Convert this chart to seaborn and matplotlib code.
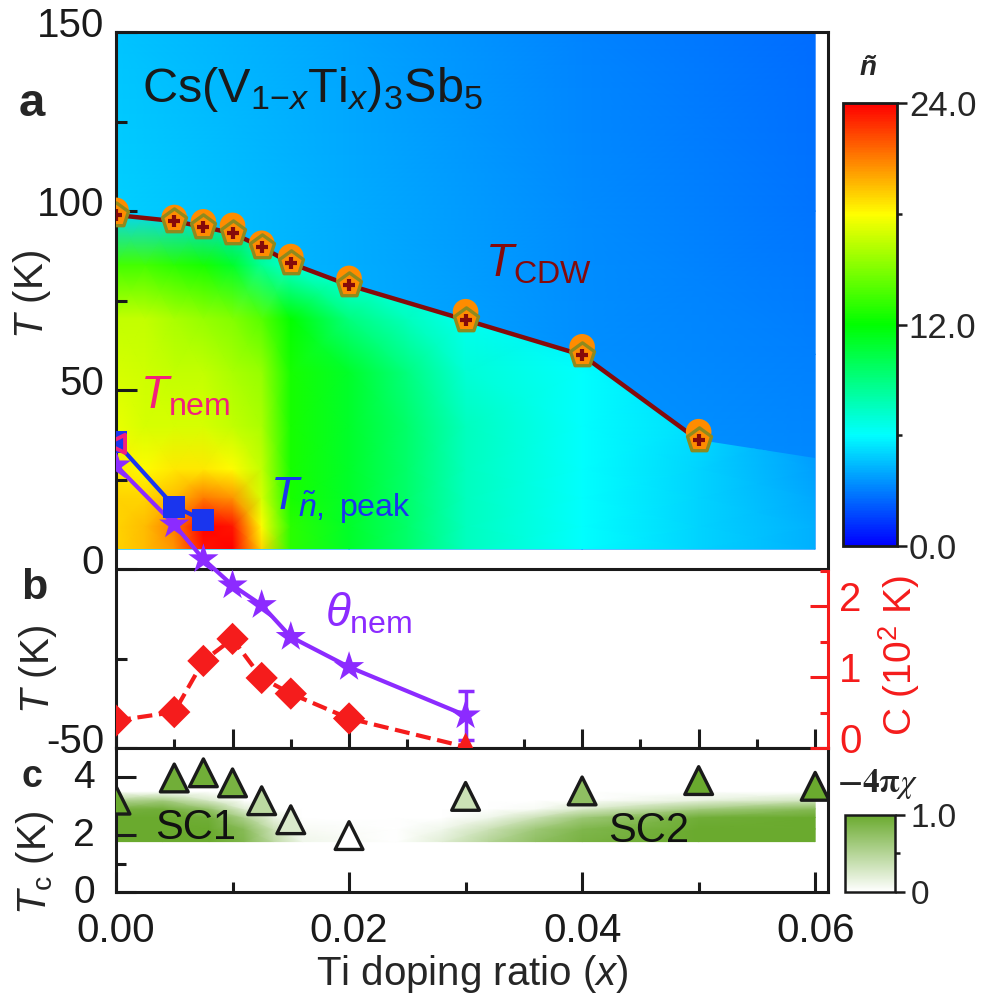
import numpy as np
import matplotlib
matplotlib.use("Agg")
import matplotlib.pyplot as plt
import seaborn as sns
from matplotlib.colors import LinearSegmentedColormap, Normalize
from matplotlib.patches import Polygon
from matplotlib.cm import ScalarMappable
from matplotlib.transforms import ScaledTranslation
from matplotlib.ticker import FixedLocator, MultipleLocator, FormatStrFormatter

sns.set_theme(style="ticks")
plt.rcParams["font.family"] = ["Liberation Sans", "DejaVu Sans"]
plt.rcParams["mathtext.fontset"] = "custom"
plt.rcParams["mathtext.rm"] = "Liberation Sans"
plt.rcParams["mathtext.it"] = "Liberation Sans:italic"
plt.rcParams["mathtext.bf"] = "Liberation Sans:bold"
plt.rcParams["axes.unicode_minus"] = False

# ---------------- data ----------------
# CDW transition (two determinations)
cdw_x = [0.0, 0.005, 0.0075, 0.01, 0.0125, 0.015, 0.02, 0.03, 0.04, 0.05]
cdw_T_pent = [98.9, 97.2, 95.6, 93.8, 90.0, 85.4, 79.3, 69.6, 59.8, 36.0]
cdw_T_circ = [100.2, 98.2, 97.0, 96.0, 91.0, 87.3, 81.2, 71.9, 62.1, 38.4]

# nematic onset and peak of n-tilde
nem_x = [0.0]
nem_T = [35.0]
peak_x = [0.0, 0.005, 0.0075]
peak_T = [35.5, 17.5, 13.7]

# Curie-Weiss temperature theta_nem and constant C
theta_x = [0.0, 0.005, 0.0075, 0.01, 0.0125, 0.015, 0.02, 0.03]
theta_T = [29.0, 12.5, 2.8, -4.5, -10.0, -18.9, -27.3, -40.8]
theta_err = [0, 0, 0, 0, 0, 0, 0, 6.8]
curie_x = [0.0, 0.005, 0.0075, 0.01, 0.0125, 0.015, 0.02, 0.03]
curie_C = [0.39, 0.51, 1.23, 1.54, 0.99, 0.77, 0.42, 0.02]
curie_kind = ["D", "D", "D", "D", "D", "D", "D", "^"]

# superconducting Tc and diamagnetic shielding
tc_x = [0.0, 0.005, 0.0075, 0.01, 0.0125, 0.015, 0.02, 0.03, 0.04, 0.05, 0.06]
tc_T = [3.2, 3.97, 4.15, 3.8, 3.18, 2.52, 1.97, 3.33, 3.52, 3.88, 3.68]
tc_chi = [1.0, 0.95, 0.95, 0.9, 0.45, 0.25, 0.0, 0.35, 0.75, 1.0, 1.0]

# n-tilde map below T_CDW (rows: temperature, columns: doping)
map_x = [0.0, 0.0025, 0.005, 0.0075, 0.01, 0.0125, 0.015, 0.02, 0.025, 0.03, 0.04, 0.05, 0.06]
map_T = [5.6, 12, 20, 28, 40, 55, 70, 85, 100]
map_low = [
    [19.0, 19.5, 20.5, 23.5, 24.0, 19.0, 13.0, 11.0, 9.5, 7.5, 6.0, 5.0, 4.2],
    [19.0, 19.5, 21.0, 24.0, 23.5, 18.0, 13.0, 11.0, 9.5, 7.5, 6.0, 5.0, 4.2],
    [19.0, 19.0, 19.5, 21.0, 20.5, 17.0, 12.5, 11.0, 9.5, 7.5, 6.0, 5.0, 4.0],
    [18.5, 18.0, 18.5, 18.5, 18.0, 16.5, 12.5, 11.0, 9.5, 7.5, 6.0, 5.0, 3.8],
    [17.5, 17.0, 17.0, 17.0, 16.5, 16.0, 12.5, 11.0, 9.5, 7.5, 6.0, 5.2, 3.5],
    [17.0, 16.8, 16.5, 16.5, 16.0, 15.5, 12.5, 11.0, 9.0, 7.0, 6.0, 5.0, 3.3],
    [16.5, 16.5, 16.0, 15.5, 15.0, 14.0, 12.0, 9.0, 7.5, 6.3, 5.5, 4.5, 3.2],
    [13.5, 13.5, 13.0, 12.5, 11.0, 8.5, 7.0, 6.0, 6.0, 5.5, 5.0, 4.0, 3.0],
    [5.0, 5.0, 5.0, 5.0, 5.0, 5.0, 5.0, 5.0, 5.0, 5.0, 4.5, 4.0, 2.8],
]
map_edge_T = 31.0  # CDW boundary at the high-doping edge of the map

# n-tilde map above T_CDW
up_x = [0.0, 0.02, 0.04, 0.06]
up_T = [5.6, 60, 100, 150]
map_up = [
    [4.6, 4.3, 3.8, 3.4],
    [4.8, 4.2, 3.4, 3.0],
    [4.9, 4.1, 3.3, 2.8],
    [4.6, 3.9, 3.1, 2.6],
]

# -4*pi*chi shading of the SC1 / SC2 domes
sc_x = [0.0, 0.004, 0.008, 0.011, 0.0135, 0.016, 0.024, 0.028, 0.032, 0.036, 0.04, 0.05, 0.06]
sc_T = [1.76, 2.2, 2.6, 2.9, 3.2, 3.5]
sc_chi = [
    [1.0, 1.0, 1.0, 0.85, 0.45, 0.10, 0.0, 0.20, 0.50, 0.75, 0.90, 1.0, 1.0],
    [1.0, 1.0, 1.0, 0.80, 0.35, 0.05, 0.0, 0.10, 0.35, 0.65, 0.85, 1.0, 1.0],
    [1.0, 1.0, 0.95, 0.55, 0.15, 0.0, 0.0, 0.0, 0.10, 0.35, 0.65, 0.95, 1.0],
    [0.9, 0.95, 0.70, 0.20, 0.0, 0.0, 0.0, 0.0, 0.0, 0.05, 0.25, 0.60, 0.8],
    [0.5, 0.6, 0.25, 0.0, 0.0, 0.0, 0.0, 0.0, 0.0, 0.0, 0.0, 0.15, 0.3],
    [0.0, 0.0, 0.0, 0.0, 0.0, 0.0, 0.0, 0.0, 0.0, 0.0, 0.0, 0.0, 0.0],
]

# ---------------- styles ----------------
c_purple = "#8C2BFF"
c_blue = "#1A35EE"
c_pink = "#F2207D"
c_red = "#F51C1C"
c_dred = "#850A0A"
c_orange = "#FF8C00"
c_olive = "#8E8A1E"
c_green = "#6AAA2E"

ntil_cmap = LinearSegmentedColormap.from_list(
    "ntil", ["#0000FF", "#00FFFF", "#00FF00", "#FFFF00", "#FF0000"])
chi_cmap = LinearSegmentedColormap.from_list("chi", ["#FFFFFF", c_green])
ntil_norm = Normalize(0, 24)
chi_norm = Normalize(0, 1)

W, H = 985, 1002
fig = plt.figure(figsize=(W / 100, H / 100), dpi=100)


def box(l, t, r, b):
    return [l / W, 1 - b / H, (r - l) / W, (b - t) / H]


LW = 2.2
FS = 29

ax = fig.add_axes(box(116, 32, 828, 748.3))
axc = fig.add_axes(box(116, 748.3, 828, 892.3))
axC = fig.add_axes(box(116, 570.7, 828, 748.3))
cax = fig.add_axes(box(843.3, 103.3, 897, 546))
xax = fig.add_axes(box(845, 815, 895, 891.7))

XMAX = 0.0611

# ---------------- panel a + b (shared temperature axis) ----------------
ax.set_xlim(0, XMAX)
ax.set_ylim(-50, 150)

mesh_up = ax.pcolormesh(up_x, up_T, np.array(map_up), shading="gouraud",
                        cmap=ntil_cmap, norm=ntil_norm, zorder=0.2)
mesh_low = ax.pcolormesh(map_x, map_T, np.array(map_low), shading="gouraud",
                         cmap=ntil_cmap, norm=ntil_norm, zorder=0.3)
verts = [(map_x[0], map_T[0])] + list(zip(cdw_x, cdw_T_pent)) + \
        [(map_x[-1], map_edge_T), (map_x[-1], map_T[0])]
clip_poly = Polygon(verts, closed=True, transform=ax.transData)
mesh_low.set_clip_path(clip_poly)

ax.axhline(0, color="k", lw=LW, zorder=2.5)
ax.plot([1, 1], [0.25, 1], transform=ax.transAxes, color="k", lw=LW,
        clip_on=False, solid_capstyle="projecting", zorder=5)

# T_CDW
sns.lineplot(x=cdw_x, y=cdw_T_pent, ax=ax, color=c_dred, lw=3.2, sort=False, zorder=3)
sns.scatterplot(x=cdw_x, y=cdw_T_circ, ax=ax, marker="o", s=340, color=c_orange,
                edgecolor="none", linewidth=0, zorder=3.2)
sns.scatterplot(x=cdw_x, y=cdw_T_pent, ax=ax, marker="p", s=330, color=c_orange,
                edgecolor=c_olive, linewidth=2.4, zorder=3.3)
sns.scatterplot(x=cdw_x, y=cdw_T_pent, ax=ax, marker="+", s=80, color=c_dred,
                linewidth=3.0, zorder=3.4)

# theta_nem (stars)
sns.lineplot(x=theta_x, y=theta_T, ax=ax, color=c_purple, lw=3.0, sort=False, zorder=4)
sns.scatterplot(x=theta_x, y=theta_T, ax=ax, marker="*", s=520, color=c_purple,
                edgecolor="none", linewidth=0, zorder=4.1)
err = np.array(theta_err)
m = err > 0
ax.errorbar(np.array(theta_x)[m], np.array(theta_T)[m], yerr=err[m], fmt="none",
            ecolor=c_purple, elinewidth=2.5, capsize=6, capthick=2.5, zorder=4)

# peak of n-tilde (squares)
sns.lineplot(x=peak_x, y=peak_T, ax=ax, color=c_blue, lw=3.0, sort=False, zorder=4.2)
sns.scatterplot(x=peak_x, y=peak_T, ax=ax, marker="s", s=250, color=c_blue,
                edgecolor="none", linewidth=0, zorder=4.3)
# T_nem
sns.scatterplot(x=nem_x, y=nem_T, ax=ax, marker="<", s=170, color="none",
                edgecolor=c_pink, linewidth=2.8, zorder=4.4)

ax.set_xlabel("")
ax.set_ylabel("")
ax.yaxis.set_major_locator(FixedLocator([-50, 0, 50, 100, 150]))
ax.yaxis.set_minor_locator(FixedLocator([-25, 25, 75, 125]))
ax.set_yticklabels(["-50", "0", "50", "100", "150"])
ax.xaxis.set_major_locator(MultipleLocator(0.01))
ax.xaxis.set_minor_locator(MultipleLocator(0.005))
ax.tick_params(axis="x", which="both", direction="in", bottom=True, top=False,
               labelbottom=False, color="k", width=LW)
ax.tick_params(axis="x", which="major", length=13.7)
ax.tick_params(axis="x", which="minor", length=6.5)
ax.tick_params(axis="y", which="both", direction="in", left=True, right=False,
               labelsize=FS, labelcolor="k", color="k", width=LW, pad=8.5)
ax.tick_params(axis="y", which="major", length=15)
ax.tick_params(axis="y", which="minor", length=8)
for s in ["left", "top", "bottom"]:
    ax.spines[s].set_color("k")
    ax.spines[s].set_linewidth(LW)
ax.spines["right"].set_visible(False)

# ---------------- C axis of panel b ----------------
axC.set_xlim(0, XMAX)
axC.set_ylim(0, 2.5)
axC.patch.set_visible(False)
sns.lineplot(x=curie_x, y=curie_C, ax=axC, color=c_red, lw=3.0, sort=False,
             linestyle=(0, (3.6, 1.6)), zorder=3)
for k in sorted(set(curie_kind)):
    xs = [x for x, kk in zip(curie_x, curie_kind) if kk == k]
    ys = [y for y, kk in zip(curie_C, curie_kind) if kk == k]
    sns.scatterplot(x=xs, y=ys, ax=axC, marker=k, s=(270 if k == "D" else 420),
                    color=c_red, edgecolor="none", linewidth=0, zorder=3.2)
axC.set_xlabel("")
axC.set_ylabel("")
for s in ["left", "top", "bottom"]:
    axC.spines[s].set_visible(False)
axC.spines["right"].set_color(c_red)
axC.spines["right"].set_linewidth(LW)
axC.yaxis.tick_right()
axC.yaxis.set_major_locator(FixedLocator([0, 1, 2]))
axC.yaxis.set_minor_locator(FixedLocator([0.5, 1.5, 2.5]))
axC.set_yticklabels(["0", "1", "2"])
axC.tick_params(axis="y", which="both", direction="in", right=True, left=False,
                color=c_red, labelcolor=c_red, labelsize=FS, width=LW, pad=8)
axC.tick_params(axis="y", which="major", length=13)
axC.tick_params(axis="y", which="minor", length=6)
axC.tick_params(axis="x", which="both", bottom=False, top=False, labelbottom=False)

# ---------------- panel c ----------------
axc.set_xlim(0, XMAX)
axc.set_ylim(0, 5.0)
axc.pcolormesh(sc_x, sc_T, np.array(sc_chi), shading="gouraud", cmap=chi_cmap,
               norm=chi_norm, zorder=0.2)
tri_colors = [chi_cmap(chi_norm(v)) for v in tc_chi]
sns.scatterplot(x=tc_x, y=tc_T, ax=axc, marker="^", s=400, c=tri_colors,
                edgecolor="k", linewidth=2.4, zorder=3)
axc.text(0.00687, 1.86, "SC1", fontsize=30, ha="center", va="baseline",
         color="#111111", zorder=2)
axc.text(0.0457, 1.76, "SC2", fontsize=30, ha="center", va="baseline",
         color="#111111", zorder=2)
axc.set_xlabel("Ti doping ratio ($x$)", fontsize=FS, labelpad=2)
axc.set_ylabel("")
axc.xaxis.set_major_locator(FixedLocator([0, 0.02, 0.04, 0.06]))
axc.xaxis.set_minor_locator(FixedLocator([0.01, 0.03, 0.05]))
axc.xaxis.set_major_formatter(FormatStrFormatter("%.2f"))
axc.yaxis.set_major_locator(FixedLocator([0, 2, 4]))
axc.yaxis.set_minor_locator(FixedLocator([1, 3]))
axc.tick_params(axis="both", which="both", direction="in", color="k", width=LW,
                labelsize=FS, labelcolor="k", top=False, right=False)
axc.tick_params(axis="y", which="both", labelsize=28)
axc.tick_params(axis="both", which="major", length=14.4)
axc.tick_params(axis="both", which="minor", length=7.2)
axc.tick_params(axis="x", which="major", pad=14)
axc.tick_params(axis="y", which="major", pad=15)
for s in axc.spines.values():
    s.set_color("k")
    s.set_linewidth(LW)

# ---------------- colorbars ----------------
cb = fig.colorbar(ScalarMappable(norm=ntil_norm, cmap=ntil_cmap), cax=cax)
cb.set_ticks([0, 12, 24])
cb.set_ticklabels(["0.0", "12.0", "24.0"])
cax.yaxis.set_minor_locator(FixedLocator([6, 18]))
cax.tick_params(which="both", direction="out", color="k", width=1.8,
                labelsize=25, pad=1.5)
cax.tick_params(which="major", length=7)
cax.tick_params(which="minor", length=3.6)
cb.outline.set_linewidth(2.0)
cb.outline.set_edgecolor("k")

cb2 = fig.colorbar(ScalarMappable(norm=chi_norm, cmap=chi_cmap), cax=xax)
cb2.set_ticks([0, 1])
cb2.set_ticklabels(["0", "1.0"])
xax.yaxis.set_minor_locator(FixedLocator([0.5]))
xax.tick_params(which="both", direction="out", color="k", width=1.8,
                labelsize=24, pad=4)
xax.tick_params(which="major", length=7)
xax.tick_params(which="minor", length=3.6)
cb2.outline.set_linewidth(1.8)
cb2.outline.set_edgecolor("k")


# tick labels sit slightly above their ticks
def lift(labels, up_px):
    off = ScaledTranslation(0, up_px / 100, fig.dpi_scale_trans)
    for lab in labels:
        lab.set_transform(lab.get_transform() + off)


lift(ax.get_yticklabels(), 10)
lift(axC.get_yticklabels(), 10)
lift(axc.get_yticklabels(), 3)

# ---------------- annotations ----------------
ax.text(0.00223, 130.4, r"Cs(V$_{1{-}x}$Ti$_{x}$)$_{3}$Sb$_{5}$", fontsize=35,
        ha="left", va="baseline", color="k", zorder=6)
ax.text(0.03167, 81.7, r"$T_{\mathrm{CDW}}$", fontsize=33, color=c_dred,
        ha="left", va="baseline", zorder=6)
ax.text(0.00206, 44.9, r"$T_{\mathrm{nem}}$", fontsize=33, color=c_pink,
        ha="left", va="baseline", zorder=6)
ax.text(0.01322, 16.7, r"$T_{\tilde{n}\mathrm{,\ peak}}$", fontsize=33, color=c_blue,
        ha="left", va="baseline", zorder=6)
ax.text(0.01794, -16.0, r"$\theta_{\mathrm{nem}}$", fontsize=33, color=c_purple,
        ha="left", va="baseline", zorder=6)


def ftext(xp, yp, s, **kw):
    fig.text(xp / W, 1 - yp / H, s, **kw)


ftext(32, 104, "a", fontsize=34, fontweight="bold", ha="center", va="center")
ftext(34, 588, "b", fontsize=31, fontweight="bold", ha="center", va="center")
ftext(32, 777, "c", fontsize=27, fontweight="bold", ha="center", va="center")
ftext(32, 295, "$T$ (K)", fontsize=FS, rotation=90, ha="center", va="center")
ftext(38, 670, "$T$ (K)", fontsize=FS, rotation=90, ha="center", va="center")
ftext(35, 863, "$T_{\\mathrm{c}}$ (K)", fontsize=FS, rotation=90, ha="center", va="center")
ftext(899, 656, "C (10$^{2}$ K)", fontsize=28, rotation=90, color=c_red,
      ha="center", va="center")
ftext(868, 68, "ñ", fontsize=20, fontweight="bold", fontstyle="italic",
      ha="center", va="center")
ftext(878, 784, r"$\mathbf{-4\pi}\chi$", fontsize=24, ha="center", va="center",
      math_fontfamily="stix")

fig.savefig("out.png", dpi=100)
